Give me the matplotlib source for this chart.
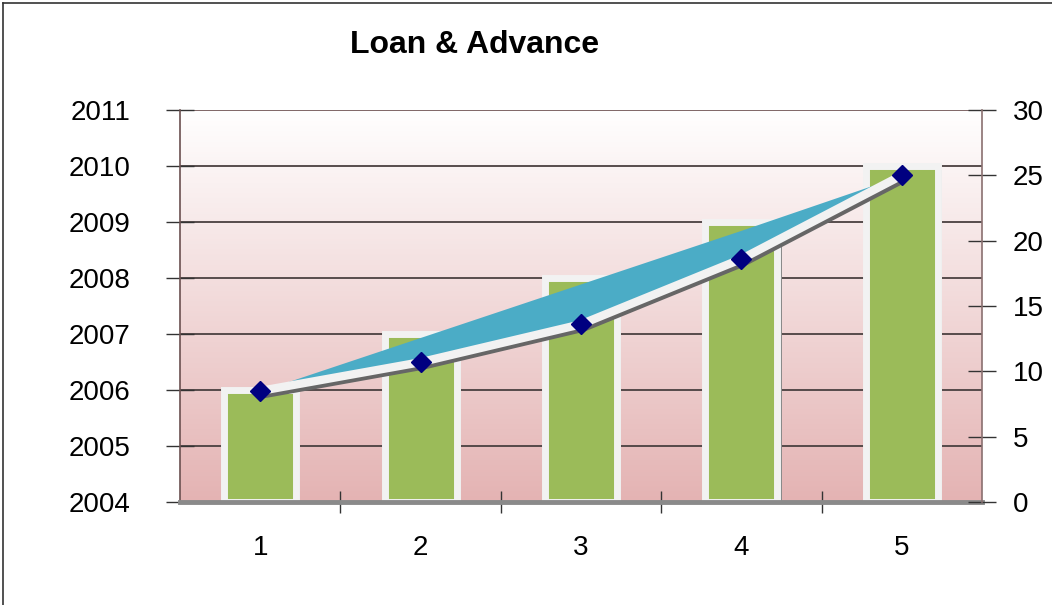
import matplotlib
matplotlib.use("Agg")
import matplotlib.pyplot as plt
import matplotlib.patheffects as pe
import numpy as np
from matplotlib.colors import LinearSegmentedColormap

plt.rcParams['font.family'] = ['Liberation Sans', 'DejaVu Sans']

categories = ["1", "2", "3", "4", "5"]
bar_years = [2006, 2007, 2008, 2009, 2010]
line_values = [8.5, 10.7, 13.6, 18.6, 25.0]
band_upper = [8.5, 12.6, 16.7, 20.8, 25.0]
left_ticks = [2004, 2005, 2006, 2007, 2008, 2009, 2010, 2011]
right_ticks = [0, 5, 10, 15, 20, 25, 30]

fig = plt.figure(figsize=(10.52, 6.05), dpi=100)
ax = fig.add_axes([180/1052, 103/605, 802/1052, 392/605])

x = np.arange(1, len(categories) + 1)

# gradient background
cmap = LinearSegmentedColormap.from_list("bg", ["#E4B3B3", "#FFFFFF"])
grad = np.linspace(0, 1, 256).reshape(-1, 1)
ax.imshow(grad, extent=[0, 1, 0, 1], transform=ax.transAxes, cmap=cmap,
          origin="lower", aspect="auto", zorder=0)

ax.set_xlim(0.5, 5.5)
ax.set_ylim(2004, 2011)
ax.set_yticks(left_ticks)
ax.set_yticklabels([str(t) for t in left_ticks], fontsize=20)
for t in left_ticks[1:]:
    ax.axhline(t, color="#4a4040", lw=1.3, zorder=1)

bars = ax.bar(x, [b - 2004 for b in bar_years], bottom=2004, width=0.45,
              color="#9BBB59", edgecolor="#F2F2F2", linewidth=5, zorder=2)
for b in bars:
    b.set_path_effects([pe.SimplePatchShadow(offset=(3, -3), shadow_rgbFace="#8a8a8a", alpha=1.0), pe.Normal()])

ax.set_xticks(x)
ax.set_xticklabels(categories, fontsize=20)
ax.tick_params(axis="x", length=0, pad=24)
ax.set_xticks(np.arange(1.5, 5.5, 1.0), minor=True)
ax.tick_params(axis="x", which="minor", direction="inout", length=16, width=1, color="#333333")
ax.tick_params(axis="y", direction="inout", length=20, width=1, color="#333333", pad=26)

for s in ["top", "right"]:
    ax.spines[s].set_visible(False)
ax.spines["left"].set_color("#6b5050")
ax.spines["left"].set_linewidth(1.2)
ax.spines["bottom"].set_color("#8a8a8a")
ax.spines["bottom"].set_linewidth(3.5)
ax.axhline(2011, color="#8a7070", lw=1.2, zorder=1)

ax2 = ax.twinx()
ax2.set_ylim(0, 30)
ax2.set_yticks(right_ticks)
ax2.set_yticklabels([str(t) for t in right_ticks], fontsize=20)
ax2.tick_params(axis="y", direction="inout", length=20, width=1, color="#333333", pad=12)
for s in ["top", "left", "bottom"]:
    ax2.spines[s].set_visible(False)
ax2.spines["right"].set_color("#8a7070")
ax2.spines["right"].set_linewidth(1.2)

ax2.fill_between(x, line_values, band_upper, color="#4BACC6", lw=0, zorder=2)
ax2.plot(x, line_values, color="#F2F2F2", lw=6, solid_capstyle="butt", zorder=3,
         path_effects=[pe.SimpleLineShadow(offset=(1.5, -3), shadow_color="#666666", alpha=1.0, linewidth=5), pe.Normal()])
ax2.plot(x, line_values, ls="none", marker="D", markersize=10, color="#000080", zorder=4)

fig.text(475/1052, 1 - 45/605, "Loan & Advance", fontsize=23, fontweight="bold",
         ha="center", va="center")

# figure border (top and left)
fig.add_artist(plt.Line2D([3/1052, 1], [1 - 3/605, 1 - 3/605], transform=fig.transFigure, color="#333333", lw=1.2))
fig.add_artist(plt.Line2D([3/1052, 3/1052], [0, 1 - 3/605], transform=fig.transFigure, color="#333333", lw=1.2))

fig.savefig("out.png", dpi=100)
